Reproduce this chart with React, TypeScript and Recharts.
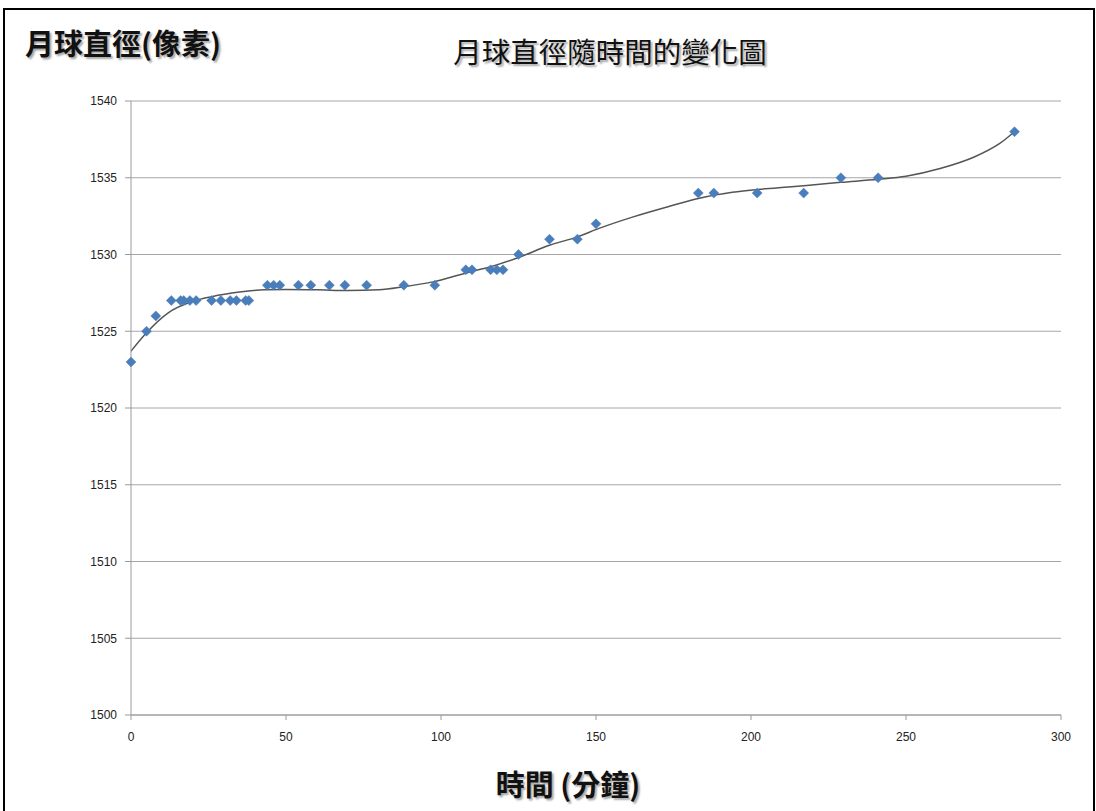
import React from 'react';
import {
  ComposedChart,
  Scatter,
  Line,
  XAxis,
  YAxis,
  CartesianGrid,
} from 'recharts';

// 觀測時間 (分鐘)
const minutes = [
  0, 5, 8, 13, 16, 17, 19, 21, 26, 29, 32, 34, 37, 38,
  44, 46, 48, 54, 58, 64, 69, 76, 88, 98,
  108, 110, 116, 118, 120, 125, 135, 144, 150,
  183, 188, 202, 217, 229, 241, 285,
];

// 月球直徑 (像素)
const diameters = [
  1523, 1525, 1526, 1527, 1527, 1527, 1527, 1527, 1527, 1527, 1527, 1527, 1527, 1527,
  1528, 1528, 1528, 1528, 1528, 1528, 1528, 1528, 1528, 1528,
  1529, 1529, 1529, 1529, 1529, 1530, 1531, 1531, 1532,
  1534, 1534, 1534, 1534, 1535, 1535, 1538,
];

// 趨勢線
const trendMinutes = [
  0, 5, 12, 20, 26, 35, 43, 50, 60, 70, 80, 88, 97, 109, 116, 125, 135, 144,
  151, 162, 173, 183, 194, 203, 212, 218, 229, 241, 250, 261, 272, 280, 285,
];
const trendValues = [
  1523.7, 1524.9, 1526.2, 1526.95, 1527.25, 1527.55, 1527.7, 1527.72, 1527.7,
  1527.65, 1527.7, 1527.9, 1528.2, 1528.85, 1529.2, 1529.8, 1530.6, 1531.15,
  1531.7, 1532.45, 1533.1, 1533.65, 1534.05, 1534.25, 1534.4, 1534.5, 1534.7,
  1534.9, 1535.1, 1535.6, 1536.35, 1537.2, 1538,
];

const xTicks = [0, 50, 100, 150, 200, 250, 300];
const yTicks = [1500, 1505, 1510, 1515, 1520, 1525, 1530, 1535, 1540];

const points = minutes.map((x, i) => ({ x, y: diameters[i] }));
const trend = trendMinutes.map((x, i) => ({ x, y: trendValues[i] }));

const Diamond = (props: any) => {
  const { cx, cy } = props;
  const r = 5;
  return (
    <polygon
      points={`${cx},${cy - r} ${cx + r},${cy} ${cx},${cy + r} ${cx - r},${cy}`}
      fill="#4a7ebb"
      stroke="#4a7ebb"
      strokeWidth={0.5}
    />
  );
};

const tickFont = { fill: '#222', fontSize: 12, fontFamily: '"Liberation Sans Narrow", "Liberation Sans", sans-serif' };
const cjk = '"Noto Sans CJK TC", "Noto Sans CJK SC", sans-serif';
const shadow = '2px 2px 2px rgba(0,0,0,0.35)';

const App: React.FC = () => {
  return (
    <div style={{ position: 'absolute', left: 0, top: 0, width: 1096, height: 811, background: '#fff', overflow: 'hidden' }}>
      <div
        style={{
          position: 'absolute',
          left: 3,
          top: 8,
          width: 1088,
          height: 820,
          border: '2px solid #000',
        }}
      />
      <div
        style={{
          position: 'absolute',
          left: 25,
          top: 22,
          fontFamily: cjk,
          fontSize: 29,
          fontWeight: 'bold',
          color: '#111',
          textShadow: shadow,
          lineHeight: '40px',
        }}
      >
        月球直徑(像素)
      </div>
      <div
        style={{
          position: 'absolute',
          left: 0,
          width: 1220,
          top: 31,
          textAlign: 'center',
          fontFamily: cjk,
          fontSize: 28.5,
          color: '#111',
          textShadow: shadow,
          lineHeight: '40px',
        }}
      >
        月球直徑隨時間的變化圖
      </div>
      <div
        style={{
          position: 'absolute',
          left: 0,
          width: 1136,
          top: 763,
          textAlign: 'center',
          fontFamily: cjk,
          fontSize: 29,
          fontWeight: 'bold',
          color: '#111',
          textShadow: shadow,
          lineHeight: '40px',
        }}
      >
        時間 (分鐘)
      </div>
      <div style={{ position: 'absolute', left: 0, top: 0 }}>
        <ComposedChart
          width={1096}
          height={811}
          margin={{ top: 101, right: 35, bottom: 66, left: 71 }}
        >
          <CartesianGrid horizontal vertical={false} stroke="#a6a6a6" strokeWidth={1} />
          <XAxis
            type="number"
            dataKey="x"
            domain={[0, 300]}
            ticks={xTicks}
            interval={0}
            height={30}
            stroke="#9a9a9a"
            tickSize={5}
            tickMargin={12}
            tick={tickFont}
          />
          <YAxis
            type="number"
            dataKey="y"
            domain={[1500, 1540]}
            ticks={yTicks}
            interval={0}
            width={60}
            stroke="#9a9a9a"
            tickSize={6}
            tickMargin={8}
            tick={tickFont}
          />
          <Line
            data={trend}
            dataKey="y"
            type="monotone"
            dot={false}
            stroke="#555"
            strokeWidth={1.5}
            isAnimationActive={false}
          />
          <Scatter
            data={points}
            dataKey="y"
            shape={<Diamond />}
            isAnimationActive={false}
          />
        </ComposedChart>
      </div>
    </div>
  );
};

export default App;
